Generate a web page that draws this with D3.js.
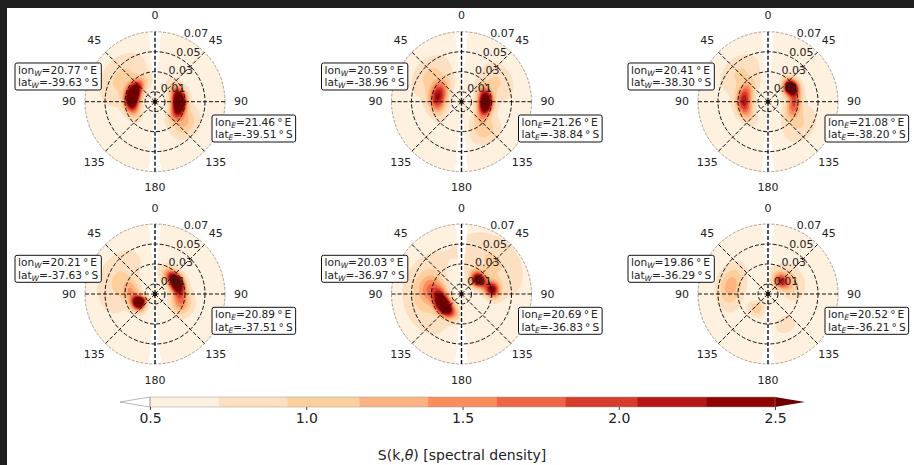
<!DOCTYPE html>
<html>
<head>
<meta charset="utf-8">
<script src="https://d3js.org/d3.v7.min.js"></script>
<style>
  body { margin: 0; background: #fff; }
  text { font-family: "DejaVu Sans", sans-serif; fill: #222; }
</style>
</head>
<body>
<svg width="914" height="465" id="mainSvg"></svg>
<script>
// contour levels and colours (colorbar)
const levels = [0.5, 0.72, 0.94, 1.17, 1.39, 1.61, 1.83, 2.06, 2.28, 2.5];
const levelColors = ["#fef1e0", "#fde0c1", "#fdcf9d", "#fdb381", "#fb8d5c", "#ef6548", "#d93b2b", "#b81616", "#8f0303"];
const overColor = "#700000";
const cbarTicks = [0.5, 1.0, 1.5, 2.0, 2.5];

// polar axes
const ringValues = [0.01, 0.03, 0.05, 0.07];
const angleTicks = [0, 45, 90, 135, 180, 225, 270, 315];
const angleLabels = ["0", "45", "90", "135", "180", "135", "90", "45"];

// station positions
const lonW = [20.77, 20.59, 20.41, 20.21, 20.03, 19.86];
const latW = [-39.63, -38.96, -38.30, -37.63, -36.97, -36.29];
const lonE = [21.46, 21.26, 21.08, 20.89, 20.69, 20.52];
const latE = [-39.51, -38.84, -38.20, -37.51, -36.83, -36.21];

// spectral peaks: [theta (deg), k, amplitude, theta spread (deg), k spread]
const peaks1 = [[284, 0.023, 3.1, 26, 0.005], [305, 0.04, 0.4, 25, 0.012],
                [91, 0.024, 2.9, 24, 0.005], [125, 0.036, 0.6, 15, 0.008]];
const peaks2 = [[282, 0.024, 1.7, 25, 0.006], [310, 0.04, 0.4, 20, 0.01],
                [92, 0.024, 2.7, 22, 0.005], [140, 0.035, 0.5, 15, 0.009], [60, 0.04, 0.35, 18, 0.01]];
const peaks3 = [[272, 0.024, 1.6, 28, 0.0055], [315, 0.04, 0.35, 20, 0.01],
                [58, 0.027, 2.6, 12, 0.005], [95, 0.026, 1.2, 20, 0.005], [125, 0.038, 0.35, 18, 0.01]];
const peaks4 = [[243, 0.018, 2.9, 15, 0.005], [280, 0.025, 0.6, 15, 0.006], [290, 0.04, 0.35, 30, 0.012],
                [62, 0.024, 2.8, 22, 0.005], [110, 0.028, 0.8, 15, 0.007]];
const peaks5 = [[238, 0.021, 3.0, 25, 0.0052], [280, 0.03, 0.8, 18, 0.008], [270, 0.04, 0.35, 40, 0.012],
                [50, 0.022, 2.2, 15, 0.005], [82, 0.031, 1.8, 10, 0.005], [45, 0.045, 0.35, 30, 0.015]];
const peaks6 = [[45, 0.018, 1.3, 18, 0.005], [60, 0.025, 0.5, 25, 0.008],
                [282, 0.038, 0.7, 20, 0.008], [218, 0.018, 0.55, 15, 0.005], [150, 0.035, 0.25, 12, 0.006]];
const panelPeaks = [peaks1, peaks2, peaks3, peaks4, peaks5, peaks6];

const backgroundLevel = 0.62;
const gapLevel = 0.3;     // white strip along 0/180
const gapHalfWidth = 5;   // deg

const svg = d3.select("#mainSvg");
const W = 914, H = 465;

// layout
const colX = [155, 461.5, 768];
const rowY = [101.7, 294];
const R = 70;
const rScale = d3.scaleLinear().domain([0, 0.07]).range([0, R]);
const fill = d3.scaleThreshold().domain(levels).range(["none"].concat(levelColors, [overColor]));

function fieldValue(peaks, dx, dy) {
  const k = rScale.invert(Math.hypot(dx, dy));
  const th = (Math.atan2(dx, -dy) * 180 / Math.PI + 360) % 360;
  const dv = Math.min(Math.abs(th), Math.abs(th - 180), Math.abs(th - 360));
  let v = dv < gapHalfWidth ? gapLevel : backgroundLevel;
  peaks.forEach(p => {
    let d = th - p[0];
    d = ((d + 540) % 360) - 180;
    v += p[2] * Math.exp(-0.5 * ((d / p[3]) ** 2 + ((k - p[1]) / p[4]) ** 2));
  });
  return v;
}

const n = 146, half = n / 2;
const contourGen = d3.contours().size([n, n]).thresholds(levels.concat([2.5001]));

panelPeaks.forEach((peaks, idx) => {
  const cx = colX[idx % 3], cy = rowY[Math.floor(idx / 3)];
  const g = svg.append("g").attr("transform", `translate(${cx},${cy})`);

  const clipId = "clip" + idx;
  g.append("clipPath").attr("id", clipId).append("circle").attr("r", R);

  const values = new Array(n * n);
  for (let j = 0; j < n; j++)
    for (let i = 0; i < n; i++)
      values[j * n + i] = fieldValue(peaks, i - half + 0.5, j - half + 0.5);

  const path = d3.geoPath(d3.geoIdentity().translate([-half, -half]));
  g.append("g").attr("clip-path", `url(#${clipId})`)
    .selectAll("path").data(contourGen(values)).join("path")
    .attr("d", path)
    .attr("fill", d => d.value > 2.5 ? overColor : fill(d.value + 1e-6));

  // outer spine
  g.append("circle").attr("r", R).attr("fill", "none")
    .attr("stroke", "#8a7a70").attr("stroke-width", 0.7).attr("stroke-dasharray", "3,1.5");

  // rings
  g.selectAll(".ring").data(ringValues.slice(0, 3)).join("circle")
    .attr("r", d => rScale(d)).attr("fill", "none")
    .attr("stroke", "#111").attr("stroke-width", 1).attr("stroke-dasharray", "4,2");

  // spokes
  g.selectAll(".spoke").data(angleTicks).join("line")
    .attr("x1", 0).attr("y1", 0)
    .attr("x2", d => R * Math.sin(d * Math.PI / 180))
    .attr("y2", d => -R * Math.cos(d * Math.PI / 180))
    .attr("stroke", "#111")
    .attr("stroke-width", d => d % 180 === 0 ? 1.4 : 1)
    .attr("stroke-dasharray", "4,2");

  g.append("circle").attr("r", 2).attr("fill", "#111");

  // angle labels
  g.selectAll(".alab").data(angleTicks).join("text")
    .attr("x", d => 86 * Math.sin(d * Math.PI / 180))
    .attr("y", d => -86 * Math.cos(d * Math.PI / 180))
    .attr("text-anchor", "middle").attr("dominant-baseline", "central")
    .attr("font-size", 11)
    .text((d, i) => angleLabels[i]);

  // radial labels
  const ra = 22.5 * Math.PI / 180;
  g.selectAll(".rlab").data(ringValues).join("text")
    .attr("x", d => rScale(d) * Math.sin(ra) + 2)
    .attr("y", d => -rScale(d) * Math.cos(ra))
    .attr("font-size", 11)
    .text(d => d.toFixed(2));

  addBox(g, -140, -38.7, "W", lonW[idx], latW[idx]);
  addBox(g, 57, 13.3, "E", lonE[idx], latE[idx]);
});

function addBox(g, x, y, sub, lon, lat) {
  const bg = g.append("rect");
  const lines = [["lon", lon.toFixed(2), "E"], ["lat", lat.toFixed(2), "S"]];
  let maxW = 0;
  lines.forEach((l, i) => {
    const t = g.append("text").attr("font-size", 10.6)
      .attr("x", x + 3).attr("y", y + 10.8 + i * 12.6);
    t.append("tspan").text(l[0]);
    t.append("tspan").attr("dy", 2).attr("font-size", 7.5).attr("font-style", "italic").text(sub);
    t.append("tspan").attr("dy", -2).text("=" + l[1] + "\u2009°\u2009" + l[2]);
    maxW = Math.max(maxW, t.node().getComputedTextLength());
  });
  bg.attr("x", x).attr("y", y).attr("width", maxW + 6).attr("height", 27)
    .attr("rx", 2).attr("fill", "#fff").attr("stroke", "#111").attr("stroke-width", 1);
}

// colorbar
const cbX = d3.scaleLinear().domain([0.5, 2.5]).range([150, 775]);
const cbY = 397, cbH = 10;
const cb = svg.append("g");
cb.selectAll("rect").data(levelColors).join("rect")
  .attr("x", (d, i) => cbX(levels[i]))
  .attr("width", (d, i) => cbX(levels[i + 1]) - cbX(levels[i]) + 0.5)
  .attr("y", cbY).attr("height", cbH).attr("fill", d => d);
cb.append("path")
  .attr("d", `M${cbX(0.5)},${cbY} L${cbX(0.5) - 30},${cbY + cbH / 2} L${cbX(0.5)},${cbY + cbH} Z`)
  .attr("fill", "#fff").attr("stroke", "#888").attr("stroke-width", 0.6);
cb.append("path")
  .attr("d", `M${cbX(2.5)},${cbY} L${cbX(2.5) + 30},${cbY + cbH / 2} L${cbX(2.5)},${cbY + cbH} Z`)
  .attr("fill", overColor);
cb.append("rect").attr("x", cbX(0.5)).attr("y", cbY).attr("width", cbX(2.5) - cbX(0.5)).attr("height", cbH)
  .attr("fill", "none").attr("stroke", "#999").attr("stroke-width", 0.5);

const cbAxis = svg.append("g").attr("transform", `translate(0,${cbY + cbH})`)
  .call(d3.axisBottom(cbX).tickValues(cbarTicks).tickFormat(d3.format(".1f")).tickSize(3));
cbAxis.select(".domain").remove();
cbAxis.selectAll("text").attr("font-size", 14).attr("font-family", "DejaVu Sans").attr("fill", "#222");
cbAxis.selectAll("line").attr("stroke", "#444");

const title = svg.append("text").attr("x", 462).attr("y", 460).attr("text-anchor", "middle").attr("font-size", 14);
title.append("tspan").text("S(k,");
title.append("tspan").attr("font-style", "italic").text("θ");
title.append("tspan").text(") [spectral density]");

// dark frame of the screenshot
svg.append("rect").attr("x", 0).attr("y", 0).attr("width", W).attr("height", 8).attr("fill", "#1e1e1e");
svg.append("rect").attr("x", 0).attr("y", 0).attr("width", 7).attr("height", H).attr("fill", "#1e1e1e");
</script>
</body>
</html>
